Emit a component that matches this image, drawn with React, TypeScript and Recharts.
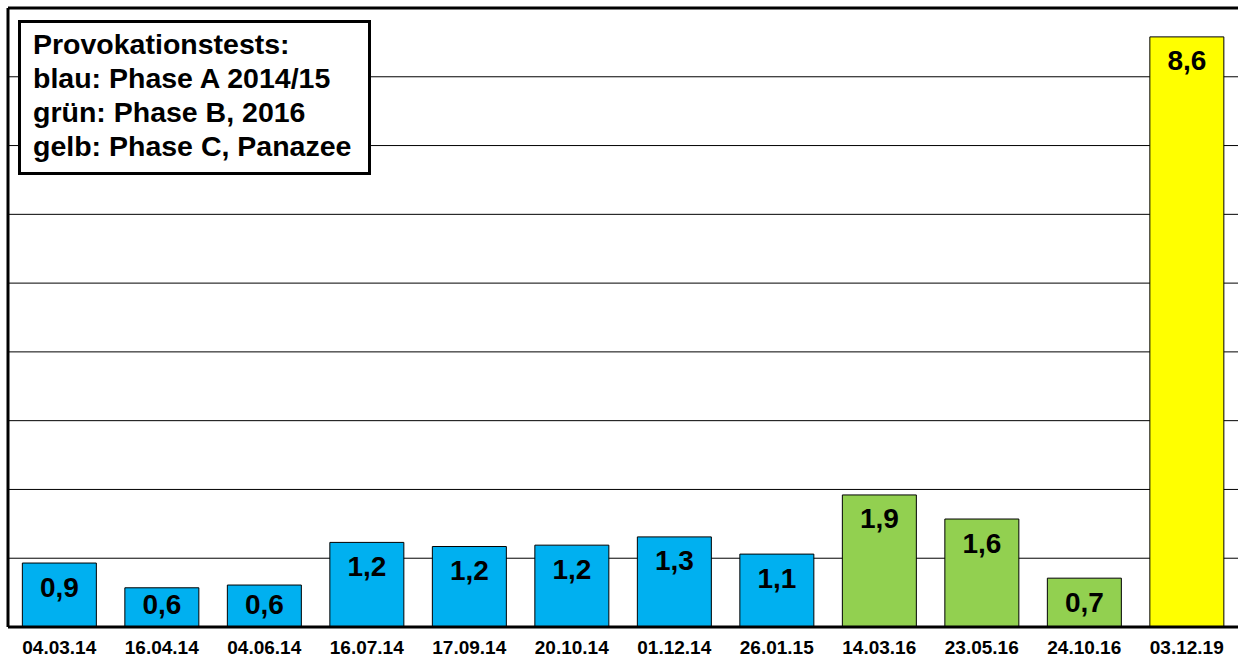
import { Bar, BarChart, CartesianGrid, Cell, LabelList, ReferenceLine, XAxis, YAxis } from 'recharts'

const dates = [
  '04.03.14', '16.04.14', '04.06.14', '16.07.14', '17.09.14', '20.10.14',
  '01.12.14', '26.01.15', '14.03.16', '23.05.16', '24.10.16', '03.12.19',
]
const values = [0.93, 0.57, 0.61, 1.23, 1.17, 1.19, 1.31, 1.06, 1.92, 1.57, 0.71, 8.58]
const phases = ['A', 'A', 'A', 'A', 'A', 'A', 'A', 'A', 'B', 'B', 'B', 'C']
const yTicks = [0, 1, 2, 3, 4, 5, 6, 7, 8, 9]
const legendLines = [
  'Provokationstests:',
  'blau: Phase A 2014/15',
  'grün: Phase B, 2016',
  'gelb: Phase C, Panazee',
]

const phaseColor: Record<string, string> = { A: '#00B0F0', B: '#92D050', C: '#FFFF00' }

const data = dates.map((d, i) => ({ date: d, value: values[i], phase: phases[i] }))

const font = '"Liberation Sans", Arial, sans-serif'

function ValueLabel(props: any) {
  const { x, y, width, height, value } = props
  const dy = Math.min(24, height - 23)
  return (
    <text
      x={x + width / 2}
      y={y + dy}
      textAnchor="middle"
      dominantBaseline="central"
      fontFamily={font}
      fontWeight="bold"
      fontSize={28}
      fill="#000"
    >
      {Number(value).toFixed(1).replace('.', ',')}
    </text>
  )
}

export default function App() {
  return (
    <div style={{ position: 'absolute', left: 0, top: 0, width: 1238, height: 660, background: '#fff' }}>
      <BarChart
        width={1238}
        height={660}
        data={data}
        margin={{ top: 8, right: 0, bottom: 0, left: 0 }}
        barCategoryGap="14%"
      >
        <CartesianGrid vertical={false} stroke="#000" strokeWidth={1} />
        <XAxis
          dataKey="date"
          tickLine={false}
          axisLine={{ stroke: '#000', strokeWidth: 3 }}
          tick={{ fontFamily: font, fontWeight: 'bold', fontSize: 19, fill: '#000', dy: 6 }}
          height={33}
          interval={0}
        />
        <YAxis
          domain={[0, 9]}
          ticks={yTicks}
          width={8}
          tick={() => <g />}
          tickLine={false}
          axisLine={{ stroke: '#000', strokeWidth: 3 }}
        />
        <ReferenceLine y={9} stroke="#000" strokeWidth={3} />
        <Bar dataKey="value" stroke="#000" strokeWidth={1} isAnimationActive={false}>
          {data.map((d, i) => (
            <Cell key={i} fill={phaseColor[d.phase]} />
          ))}
          <LabelList dataKey="value" content={ValueLabel} />
        </Bar>
      </BarChart>
      <div
        style={{
          position: 'absolute',
          left: 18,
          top: 20,
          width: 353,
          height: 155,
          border: '3px solid #000',
          background: '#fff',
          fontFamily: font,
          fontWeight: 'bold',
          fontSize: 28.5,
          lineHeight: '34px',
          padding: '4px 0 0 12px',
          boxSizing: 'border-box',
          color: '#000',
          whiteSpace: 'nowrap',
        }}
      >
        {legendLines.map((l) => (
          <div key={l}>{l}</div>
        ))}
      </div>
    </div>
  )
}
